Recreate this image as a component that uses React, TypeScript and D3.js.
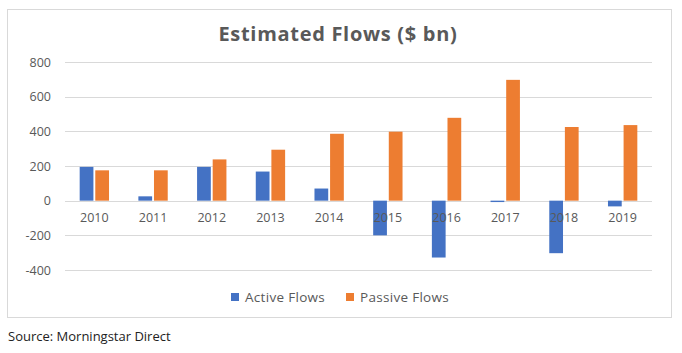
import React, { useEffect, useRef } from 'react';
import * as d3 from 'd3';

const years = ['2010', '2011', '2012', '2013', '2014', '2015', '2016', '2017', '2018', '2019'];
const activeFlows = [195, 25, 195, 168, 70, -200, -328, -8, -303, -33];
const passiveFlows = [175, 175, 238, 294, 386, 398, 478, 697, 425, 436];
const seriesNames = ['Active Flows', 'Passive Flows'];
const yTicks = [-400, -200, 0, 200, 400, 600, 800];

const App = () => {
  const ref = useRef<SVGSVGElement>(null);

  useEffect(() => {
    const svg = d3.select(ref.current);
    svg.selectAll('*').remove();

    const width = 682;
    const height = 353;
    const colors = ['#4472C4', '#ED7D31'];
    const font = "'Open Sans', sans-serif";

    // chart frame
    svg.append('rect')
      .attr('x', 7.5).attr('y', 9.5)
      .attr('width', 664).attr('height', 308)
      .attr('fill', '#fff').attr('stroke', '#d9d9d9');

    svg.append('text')
      .attr('x', 338).attr('y', 41)
      .attr('text-anchor', 'middle')
      .attr('font-family', font).attr('font-weight', 700)
      .attr('font-size', 20).attr('letter-spacing', 0.7).attr('fill', '#595959')
      .text('Estimated Flows ($ bn)');

    const y = d3.scaleLinear().domain([-400, 800]).range([270, 62]);
    const x0 = d3.scaleBand().domain(years).range([65, 652]).paddingInner(0.5).paddingOuter(0.25);
    const x1 = d3.scaleBand().domain(seriesNames).range([0, x0.bandwidth()]).paddingInner(0.12);

    svg.append('g').selectAll('line')
      .data(yTicks)
      .enter().append('line')
      .attr('x1', 65).attr('x2', 652)
      .attr('y1', d => Math.round(y(d)) + 0.5).attr('y2', d => Math.round(y(d)) + 0.5)
      .attr('stroke', '#d9d9d9');

    svg.append('g').selectAll('text')
      .data(yTicks)
      .enter().append('text')
      .attr('x', 51).attr('y', d => y(d) + 4.5)
      .attr('text-anchor', 'end')
      .attr('font-family', font).attr('font-size', 12.5).attr('fill', '#595959')
      .text(d => d);

    const series = [activeFlows, passiveFlows];
    series.forEach((vals, si) => {
      svg.append('g').selectAll('rect')
        .data(vals)
        .enter().append('rect')
        .attr('x', (d, i) => x0(years[i])! + x1(seriesNames[si])!)
        .attr('width', x1.bandwidth())
        .attr('y', d => y(Math.max(0, d)))
        .attr('height', d => Math.abs(y(d) - y(0)))
        .attr('fill', colors[si]);
    });

    svg.append('g').selectAll('text')
      .data(years)
      .enter().append('text')
      .attr('x', d => x0(d)! + x0.bandwidth() / 2)
      .attr('y', 222)
      .attr('text-anchor', 'middle')
      .attr('font-family', font).attr('font-size', 12.5).attr('fill', '#595959')
      .text(d => d);

    // legend
    const legendX = [231, 346];
    seriesNames.forEach((name, i) => {
      svg.append('rect')
        .attr('x', legendX[i]).attr('y', 293)
        .attr('width', 8).attr('height', 8)
        .attr('fill', colors[i]);
      svg.append('text')
        .attr('x', legendX[i] + 14).attr('y', 302)
        .attr('font-family', font).attr('font-size', 13.5).attr('letter-spacing', 0.3)
        .attr('fill', '#595959')
        .text(name);
    });

    svg.append('text')
      .attr('x', 8).attr('y', 341)
      .attr('font-family', font).attr('font-size', 13).attr('fill', '#222')
      .text('Source: Morningstar Direct');

    svg.attr('width', width).attr('height', height);
  }, []);

  return <svg ref={ref} style={{ position: 'absolute', left: 0, top: 0, background: '#fff' }} />;
};

export default App;
